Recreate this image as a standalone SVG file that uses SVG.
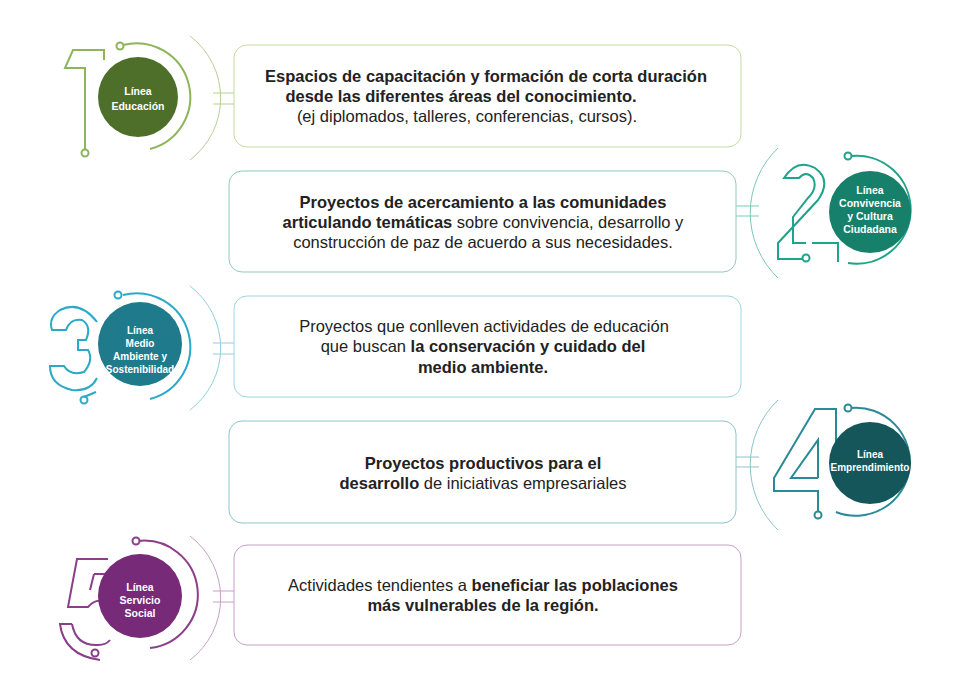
<svg xmlns="http://www.w3.org/2000/svg" width="956" height="686" viewBox="0 0 956 686">
<style>
.t{font-family:"Liberation Sans",Arial,sans-serif;font-size:16.5px;fill:#222;text-anchor:middle}
.b{font-weight:bold}
.c{font-family:"Liberation Sans",Arial,sans-serif;font-size:10.5px;font-weight:bold;fill:#fff;text-anchor:middle}
.ln{fill:none;stroke-width:2}
.th{fill:none;stroke-width:1}
.box{fill:#fff;stroke-width:1}
</style>
<rect width="956" height="686" fill="#fff"/>
<g id="n1">
<path class="ln" stroke="#8db55a" d="M85,150 V68 H65 L73,50 H104 V60"/>
<circle stroke="#8db55a" stroke-width="2" cx="85" cy="153" r="3.5" fill="#fff"/>
<path class="ln" stroke="#8db55a" d="M123,45 A53,53 0 1 1 150,149"/>
<circle stroke="#8db55a" stroke-width="2" cx="120" cy="46" r="3.5" fill="#fff"/>
<path class="th" stroke="#b7cf94" d="M190,36 A78,78 0 0 1 190,160"/>
<path class="th" stroke="#b7cf94" d="M213,93 H234 M213,104 H234"/>
<circle cx="138" cy="97" r="40" fill="#4d6f2a"/>
<text class="c" x="138" y="95">Línea</text><text class="c" x="138" y="110">Educación</text>
<rect class="box" stroke="#c8da9e" x="234" y="45" width="507" height="102" rx="13"/>
<text class="t b" x="486" y="82">Espacios de capacitación y formación de corta duración</text>
<text class="t b" x="461" y="102">desde las diferentes áreas del conocimiento.</text>
<text class="t" x="467" y="122">(ej diplomados, talleres, conferencias, cursos).</text>
</g>
<g id="n2">
<path class="ln" stroke="#1fa38a" d="M806,259 H778 V243 L818,200 Q832,180 815,168 Q797,158 784,178 H799 Q806,170 813,178 Q818,188 808,198 L793,217 V243 H806 M812,243 H838 V262"/>
<circle stroke="#1fa38a" stroke-width="2" cx="806" cy="258" r="3.5" fill="#fff"/>
<path class="ln" stroke="#1fa38a" d="M851,156 A54,54 0 1 1 848,263"/>
<circle stroke="#1fa38a" stroke-width="2" cx="848" cy="156" r="3.5" fill="#fff"/>
<path class="th" stroke="#7cc8b8" d="M778,148 A90,90 0 0 0 778,278"/>
<path class="th" stroke="#7cc8b8" d="M736,206 H759 M736,216 H759"/>
<circle cx="870" cy="212" r="41" fill="#17806b"/>
<text class="c" x="870" y="194">Línea</text><text class="c" x="870" y="207">Convivencia</text><text class="c" x="870" y="220">y Cultura</text><text class="c" x="870" y="233">Ciudadana</text>
<rect class="box" stroke="#8fcbbc" x="229" y="171" width="507" height="101" rx="13"/>
<text class="t b" x="483" y="208">Proyectos de acercamiento a las comunidades</text>
<text class="t" x="483" y="228"><tspan class="b">articulando temáticas</tspan> sobre convivencia, desarrollo y</text>
<text class="t" x="483" y="248">construcción de paz de acuerdo a sus necesidades.</text>
</g>
<g id="n3">
<path class="ln" stroke="#2aa9c8" d="M97,322 Q80,300 60,310 Q48,318 52,330 H66 Q70,318 82,320 Q92,326 86,340 H78 V350 H88 Q94,360 84,372 Q70,376 64,366 H50 Q50,385 72,390 Q90,392 97,378"/>
<circle stroke="#2aa9c8" stroke-width="2" cx="84" cy="400" r="3.5" fill="#fff"/>
<path class="ln" stroke="#2aa9c8" d="M84,397 L96,392"/>
<path class="ln" stroke="#2aa9c8" d="M123,295 A53,53 0 1 1 150,399"/>
<circle stroke="#2aa9c8" stroke-width="2" cx="118" cy="295" r="3.5" fill="#fff"/>
<path class="th" stroke="#8fd0e0" d="M190,286 A78,78 0 0 1 190,410"/>
<path class="th" stroke="#8fd0e0" d="M213,343 H234 M213,354 H234"/>
<circle cx="140" cy="344" r="42" fill="#1f7a8c"/>
<text class="c" x="140" y="334" style="font-size:10px">Línea</text><text class="c" x="140" y="347" style="font-size:10px">Medio</text><text class="c" x="140" y="360" style="font-size:10px">Ambiente y</text><text class="c" x="140" y="373" style="font-size:10px">Sostenibilidad</text>
<rect class="box" stroke="#9ed4e2" x="234" y="296" width="507" height="101" rx="13"/>
<text class="t" x="484" y="332">Proyectos que conlleven actividades de educación</text>
<text class="t" x="483" y="352">que buscan <tspan class="b">la conservación y cuidado del</tspan></text>
<text class="t b" x="483" y="373">medio ambiente.</text>
</g>
<g id="n4">
<path class="ln" stroke="#2a8a98" d="M836,463 V409 H815 L774,478 V491 H818 V513 M818,478 H791 L818,440 V478"/>
<circle stroke="#2a8a98" stroke-width="2" cx="818" cy="515" r="3.5" fill="#fff"/>
<path class="ln" stroke="#2a8a98" d="M851,408 A54,54 0 1 1 836,512"/>
<circle stroke="#2a8a98" stroke-width="2" cx="848" cy="408" r="3.5" fill="#fff"/>
<path class="th" stroke="#8cc4cc" d="M778,400 A90,90 0 0 0 778,530"/>
<path class="th" stroke="#8cc4cc" d="M736,457 H759 M736,467 H759"/>
<circle cx="870" cy="463" r="41" fill="#14565a"/>
<text class="c" x="870" y="458" style="font-size:10px">Línea</text><text class="c" x="870" y="471" style="font-size:10px">Emprendimiento</text>
<rect class="box" stroke="#8cc4cc" x="229" y="421" width="507" height="102" rx="13"/>
<text class="t b" x="483" y="469">Proyectos productivos para el</text>
<text class="t" x="483" y="489"><tspan class="b">desarrollo</tspan> de iniciativas empresariales</text>
</g>
<g id="n5">
<path class="ln" stroke="#8a3f8a" d="M108,559 H77 L68,607 H88 Q96,598 104,602 M72,624 Q76,646 98,645 Q106,645 110,640 M72,624 H60 Q64,655 100,660 M94,574 H108 M94,574 L90,590"/>
<circle stroke="#8a3f8a" stroke-width="2" cx="95" cy="653" r="3.5" fill="#fff"/>
<path class="ln" stroke="#8a3f8a" d="M138,541 A53,53 0 1 1 150,648"/>
<circle stroke="#8a3f8a" stroke-width="2" cx="136" cy="541" r="3.5" fill="#fff"/>
<path class="th" stroke="#c7a0c7" d="M190,536 A78,78 0 0 1 190,660"/>
<path class="th" stroke="#c7a0c7" d="M213,591 H234 M213,602 H234"/>
<circle cx="140" cy="596" r="42" fill="#762a78"/>
<text class="c" x="140" y="591">Línea</text><text class="c" x="140" y="604">Servicio</text><text class="c" x="140" y="617">Social</text>
<rect class="box" stroke="#c7a0c7" x="234" y="545" width="507" height="100" rx="13"/>
<text class="t" x="483" y="591">Actividades tendientes a <tspan class="b">beneficiar las poblaciones</tspan></text>
<text class="t b" x="483" y="611">más vulnerables de la región.</text>
</g>
<g id="connectors"></g>
</svg>
